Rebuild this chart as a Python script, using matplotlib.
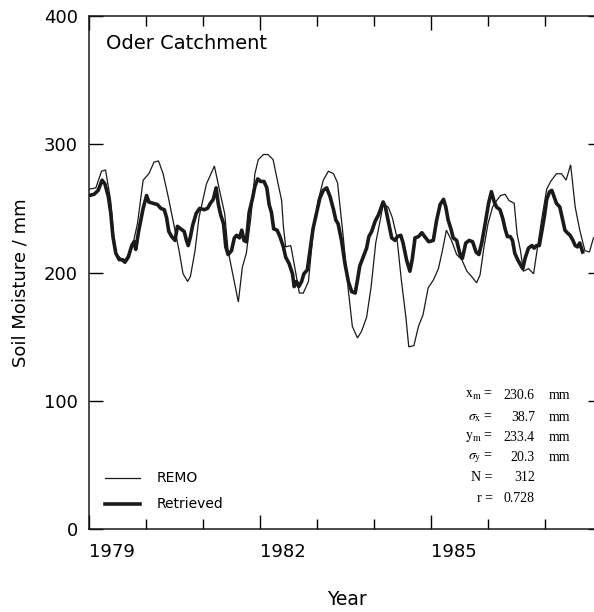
import matplotlib
matplotlib.use("Agg")
import matplotlib.pyplot as plt
from matplotlib.lines import Line2D

# ---------------- data ----------------
remo_years = [1979.00, 1979.12, 1979.22, 1979.29, 1979.38, 1979.44, 1979.48, 1979.56, 1979.64,
              1979.76, 1979.85, 1979.95, 1980.05, 1980.14, 1980.22, 1980.30, 1980.39, 1980.49,
              1980.58, 1980.65, 1980.73, 1980.78, 1980.86, 1980.93, 1981.06, 1981.20, 1981.30,
              1981.38, 1981.44, 1981.53, 1981.62, 1981.69, 1981.76, 1981.84, 1981.91, 1981.97,
              1982.06, 1982.14, 1982.23, 1982.29, 1982.38, 1982.41, 1982.45, 1982.54, 1982.61,
              1982.69, 1982.76, 1982.85, 1982.93, 1983.02, 1983.11, 1983.20, 1983.29, 1983.36,
              1983.46, 1983.55, 1983.62, 1983.71, 1983.78, 1983.87, 1983.95, 1984.03, 1984.11,
              1984.16, 1984.25, 1984.32, 1984.40, 1984.48, 1984.56, 1984.61, 1984.70, 1984.78,
              1984.86, 1984.95, 1985.04, 1985.13, 1985.20, 1985.27, 1985.36, 1985.45, 1985.54,
              1985.63, 1985.71, 1985.80, 1985.86, 1985.93, 1986.00, 1986.08, 1986.15, 1986.22,
              1986.30, 1986.37, 1986.46, 1986.51, 1986.57, 1986.62, 1986.71, 1986.80, 1986.87,
              1986.94, 1987.03, 1987.10, 1987.20, 1987.29, 1987.37, 1987.45, 1987.53, 1987.61,
              1987.70, 1987.78, 1987.85]
remo_values = [265, 266, 279, 280, 256, 225, 214, 211, 210,
               220, 238, 272, 277, 286, 287, 277, 259, 237,
               217, 199, 193, 197, 217, 243, 269, 283, 262,
               246, 217, 197, 177, 204, 215, 243, 277, 288,
               292, 292, 288, 275, 256, 236, 220, 221, 204,
               184, 184, 193, 230, 256, 272, 279, 277, 270,
               228, 186, 158, 149, 154, 165, 189, 223, 241,
               253, 251, 243, 228, 194, 165, 142, 143, 158,
               167, 188, 194, 203, 217, 233, 225, 214, 210,
               201, 197, 192, 198, 220, 238, 251, 256, 260,
               261, 256, 254, 230, 217, 201, 203, 199, 220,
               241, 265, 271, 277, 277, 272, 284, 251, 233,
               217, 216, 227]

retr_years = [1979.00, 1979.09, 1979.16, 1979.23, 1979.28, 1979.34, 1979.38, 1979.42, 1979.47,
              1979.53, 1979.58, 1979.63, 1979.69, 1979.75, 1979.79, 1979.82, 1979.87, 1979.91,
              1979.95, 1980.01, 1980.05, 1980.12, 1980.20, 1980.26, 1980.32, 1980.36, 1980.40,
              1980.45, 1980.51, 1980.55, 1980.61, 1980.67, 1980.71, 1980.74, 1980.78, 1980.82,
              1980.88, 1980.94, 1981.02, 1981.08, 1981.13, 1981.18, 1981.23, 1981.27, 1981.31,
              1981.36, 1981.40, 1981.44, 1981.50, 1981.55, 1981.59, 1981.64, 1981.68, 1981.72,
              1981.76, 1981.81, 1981.87, 1981.91, 1981.96, 1982.01, 1982.07, 1982.12, 1982.16,
              1982.20, 1982.24, 1982.30, 1982.35, 1982.41, 1982.45, 1982.51, 1982.57, 1982.60,
              1982.64, 1982.68, 1982.73, 1982.77, 1982.83, 1982.88, 1982.93, 1982.99, 1983.05,
              1983.11, 1983.17, 1983.23, 1983.29, 1983.33, 1983.37, 1983.43, 1983.49, 1983.55,
              1983.61, 1983.67, 1983.71, 1983.75, 1983.81, 1983.87, 1983.91, 1983.96, 1984.02,
              1984.08, 1984.12, 1984.16, 1984.20, 1984.25, 1984.31, 1984.37, 1984.41, 1984.47,
              1984.51, 1984.57, 1984.63, 1984.67, 1984.72, 1984.78, 1984.84, 1984.89, 1984.96,
              1985.04, 1985.10, 1985.16, 1985.22, 1985.26, 1985.30, 1985.35, 1985.39, 1985.45,
              1985.51, 1985.55, 1985.61, 1985.67, 1985.73, 1985.79, 1985.84, 1985.89, 1985.95,
              1986.01, 1986.06, 1986.11, 1986.15, 1986.21, 1986.26, 1986.30, 1986.34, 1986.39,
              1986.43, 1986.47, 1986.52, 1986.57, 1986.61, 1986.65, 1986.71, 1986.77, 1986.81,
              1986.85, 1986.90, 1986.94, 1986.99, 1987.03, 1987.08, 1987.12, 1987.16, 1987.20,
              1987.26, 1987.31, 1987.35, 1987.39, 1987.44, 1987.49, 1987.53, 1987.57, 1987.61,
              1987.66]
retr_values = [260, 261, 264, 272, 269, 259, 247, 228, 215,
               210, 210, 208, 212, 221, 224, 218, 232, 241,
               250, 260, 255, 254, 253, 250, 249, 243, 232,
               228, 225, 236, 234, 232, 225, 221, 228, 237,
               246, 250, 249, 250, 254, 257, 266, 253, 245,
               238, 220, 214, 217, 227, 229, 227, 233, 225,
               224, 247, 258, 267, 273, 271, 271, 266, 253,
               247, 234, 233, 228, 220, 212, 207, 199, 189,
               193, 189, 193, 199, 202, 218, 234, 246, 258,
               264, 266, 259, 249, 241, 238, 225, 207, 193,
               185, 184, 194, 205, 212, 219, 228, 232, 240,
               245, 250, 255, 251, 240, 227, 225, 228, 229,
               223, 210, 201, 210, 227, 228, 231, 228, 224,
               225, 241, 253, 257, 251, 241, 234, 227, 225,
               214, 211, 223, 225, 224, 216, 214, 223, 238,
               254, 263, 255, 251, 249, 242, 234, 228, 228,
               225, 215, 210, 206, 203, 211, 219, 221, 219,
               221, 221, 231, 244, 257, 263, 264, 259, 254,
               251, 241, 233, 231, 229, 225, 221, 220, 223,
               216]

year_labels = [1979, 1982, 1985]
stat_labels = [r"$\mathrm{x_m}$ =", r"$\sigma_\mathrm{x}$ =", r"$\mathrm{y_m}$ =",
               r"$\sigma_\mathrm{y}$ =", "N =", "r ="]
stat_values = ["230.6", "38.7", "233.4", "20.3", "312", "0.728"]
stat_units = ["mm", "mm", "mm", "mm", "", ""]

# ---------------- figure ----------------
plt.rcParams['mathtext.fontset'] = 'stix'
W, H = 594, 612
fig = plt.figure(figsize=(W / 100, H / 100), dpi=100)
ax = fig.add_axes([89 / W, (H - 529) / H, 513 / W, 513 / H])

ax.plot(remo_years, remo_values, color='#1a1a1a', lw=0.9, solid_joinstyle='miter')
ax.plot(retr_years, retr_values, color='#1a1a1a', lw=2.6, solid_joinstyle='round')

ax.set_xlim(1979, 1988)
ax.set_ylim(0, 400)

for s in ax.spines.values():
    s.set_linewidth(1.1)
    s.set_color('#1a1a1a')

ax.set_xticks(year_labels)
ax.set_xticklabels([str(y) for y in year_labels])
ax.set_xticks(list(range(1979, 1989)), minor=True)
ax.set_yticks([0, 100, 200, 300, 400])
ax.tick_params(axis='x', which='major', direction='in', length=10, width=1, top=True,
               labelsize=13, pad=10)
ax.tick_params(axis='x', which='minor', direction='in', length=7, width=1, top=True)
ax.tick_params(axis='y', which='major', direction='in', length=10, width=1, right=True,
               labelsize=13, pad=8)
for lab in ax.get_xticklabels():
    lab.set_ha('left')

ax.text(-0.1345, 0.48, "Soil Moisture / mm", rotation=90, transform=ax.transAxes,
        ha='center', va='center', fontsize=13)
ax.text(0.503, -0.138, "Year", transform=ax.transAxes, ha='center', va='center', fontsize=13.5)

ax.text(0.033, 0.947, "Oder Catchment", transform=ax.transAxes, ha='left', va='center',
        fontsize=14)

# legend drawn by hand
ax.add_line(Line2D([0.031, 0.099], [0.0994, 0.0994], transform=ax.transAxes,
                   color='#1a1a1a', lw=0.9))
ax.add_line(Line2D([0.031, 0.099], [0.0487, 0.0487], transform=ax.transAxes,
                   color='#1a1a1a', lw=2.6))
ax.text(0.1326, 0.0994, "REMO", transform=ax.transAxes, ha='left', va='center', fontsize=10)
ax.text(0.1326, 0.0487, "Retrieved", transform=ax.transAxes, ha='left', va='center', fontsize=10)

# statistics block
rows_y = [0.261, 0.218, 0.179, 0.140, 0.101, 0.060]
for yy, lab, val, unit in zip(rows_y, stat_labels, stat_values, stat_units):
    ax.text(0.7875, yy, lab, transform=ax.transAxes, ha='right', va='center',
            fontsize=10, family='Liberation Serif')
    ax.text(0.869, yy, val, transform=ax.transAxes, ha='right', va='center',
            fontsize=10, family='Liberation Serif')
    if unit:
        ax.text(0.897, yy, unit, transform=ax.transAxes, ha='left', va='center',
                fontsize=10, family='Liberation Serif')

fig.savefig("out.png", dpi=100)
